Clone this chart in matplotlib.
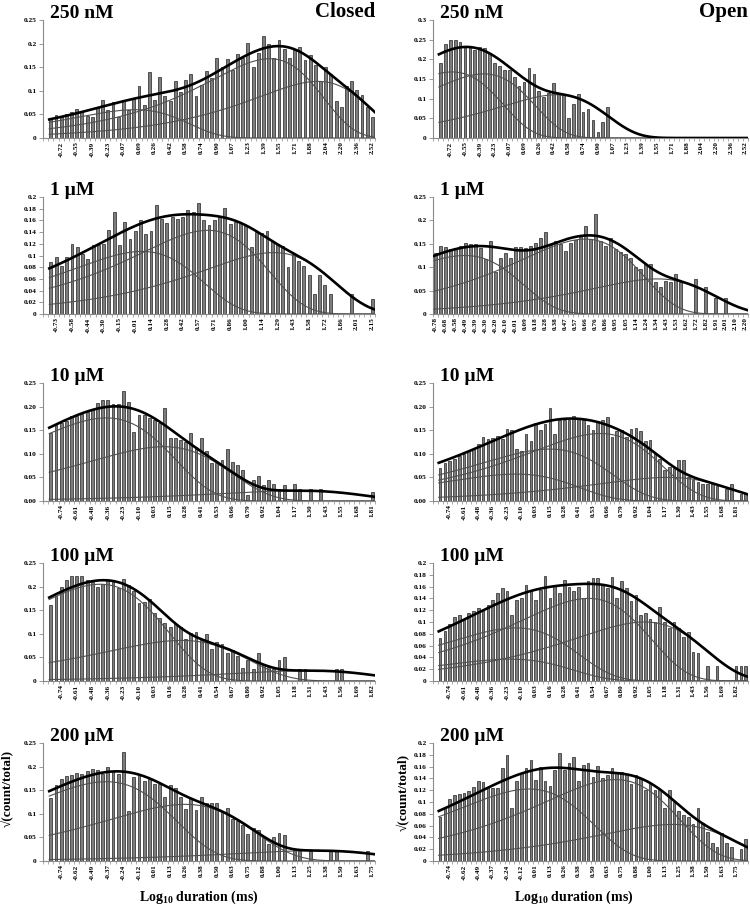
import numpy as np
import matplotlib.pyplot as plt

plt.rcParams['font.family'] = ['Liberation Serif', 'DejaVu Serif']
plt.rcParams['font.weight'] = 'bold'
plt.rcParams['mathtext.fontset'] = 'custom'
plt.rcParams['mathtext.rm'] = 'Liberation Serif:bold'
plt.rcParams['mathtext.default'] = 'rm'

# ---- tick labels (log10 duration, ms) ----
labels_250nM = ['-0.72', '-0.55', '-0.39', '-0.23', '-0.07', '0.09', '0.26', '0.42', '0.58', '0.74', '0.90',
                '1.07', '1.23', '1.39', '1.55', '1.71', '1.88', '2.04', '2.20', '2.36', '2.52']
labels_1uM_closed = ['-0.73', '-0.58', '-0.44', '-0.30', '-0.15', '-0.01', '0.14', '0.28', '0.42', '0.57', '0.71',
                     '0.86', '1.00', '1.14', '1.29', '1.43', '1.58', '1.72', '1.86', '2.01', '2.15']
labels_1uM_open = ['-0.78', '-0.68', '-0.58', '-0.49', '-0.39', '-0.30', '-0.20', '-0.10', '-0.01', '0.09', '0.18',
                   '0.28', '0.38', '0.47', '0.57', '0.66', '0.76', '0.86', '0.95', '1.05', '1.14', '1.24', '1.34',
                   '1.43', '1.53', '1.62', '1.72', '1.82', '1.91', '2.01', '2.10', '2.20']
labels_10uM = ['-0.74', '-0.61', '-0.48', '-0.36', '-0.23', '-0.10', '0.03', '0.15', '0.28', '0.41', '0.53',
               '0.66', '0.79', '0.92', '1.04', '1.17', '1.30', '1.43', '1.55', '1.68', '1.81']
labels_100uM = ['-0.74', '-0.61', '-0.48', '-0.36', '-0.23', '-0.10', '0.03', '0.16', '0.28', '0.41', '0.54',
                '0.67', '0.80', '0.92', '1.05', '1.18', '1.31', '1.43', '1.56', '1.69', '1.82']
labels_200uM = ['-0.74', '-0.62', '-0.49', '-0.37', '-0.24', '-0.12', '0.01', '0.13', '0.26', '0.38', '0.50',
                '0.63', '0.75', '0.88', '1.00', '1.13', '1.25', '1.38', '1.50', '1.63', '1.75']

# ---- histogram bars, sqrt(count/total) per bin ----
closed_250nM = [0, 0.042, 0.048, 0.045, 0.05, 0.056, 0.061, 0.055, 0.047, 0.045, 0.065, 0.08, 0.06, 0.076, 0.045,
                0.08, 0.06, 0.085, 0.11, 0.07, 0.14, 0.08, 0.13, 0.088, 0.078, 0.12, 0.097, 0.123, 0.136, 0.09,
                0.112, 0.142, 0.128, 0.169, 0.15, 0.168, 0.144, 0.177, 0.17, 0.202, 0.15, 0.181, 0.216, 0.2, 0.17,
                0.208, 0.188, 0.17, 0.186, 0.192, 0.165, 0.176, 0.155, 0.12, 0.15, 0.136, 0.078, 0.065, 0.11, 0.12,
                0.102, 0.091, 0.065, 0.045]
open_250nM = [0, 0.19, 0.238, 0.25, 0.25, 0.245, 0.235, 0.23, 0.225, 0.232, 0.228, 0.217, 0.19, 0.182, 0.172, 0.172,
              0.154, 0.133, 0.143, 0.178, 0.163, 0.12, 0.105, 0.115, 0.14, 0.112, 0.113, 0.052, 0.086, 0.111, 0.066,
              0.075, 0.047, 0.015, 0.04, 0.079]
closed_1uM = [0, 0.089, 0.097, 0.082, 0.098, 0.12, 0.115, 0.102, 0.094, 0.118, 0.118, 0.12, 0.144, 0.175, 0.118,
              0.158, 0.129, 0.142, 0.16, 0.137, 0.142, 0.186, 0.162, 0.156, 0.165, 0.163, 0.165, 0.177, 0.175, 0.19,
              0.161, 0.152, 0.16, 0.165, 0.182, 0.154, 0.158, 0.155, 0.152, 0.115, 0.14, 0.138, 0.142, 0.125, 0.12,
              0.117, 0.08, 0.103, 0.09, 0.082, 0.067, 0.034, 0.067, 0.05, 0.034, 0, 0, 0, 0.034, 0, 0, 0, 0.025]
open_1uM = [0.13, 0.145, 0.143, 0.138, 0.14, 0.145, 0.152, 0.15, 0.15, 0.14, 0.117, 0.156, 0.09, 0.12, 0.13, 0.12,
            0.143, 0.144, 0.14, 0.145, 0.152, 0.162, 0.175, 0.148, 0.155, 0.15, 0.135, 0.152, 0.158, 0.165, 0.187,
            0.16, 0.213, 0.155, 0.145, 0.163, 0.138, 0.133, 0.128, 0.12, 0.101, 0.097, 0.107, 0.107, 0.068, 0.058,
            0.07, 0.068, 0.085, 0.068, 0, 0, 0.075, 0, 0.058, 0, 0.034, 0, 0.034, 0, 0, 0, 0]
closed_10uM = [0, 0.145, 0.16, 0.165, 0.17, 0.18, 0.18, 0.185, 0.188, 0.195, 0.208, 0.214, 0.213, 0.205, 0.205,
               0.232, 0.21, 0.146, 0.183, 0.182, 0.176, 0.172, 0.165, 0.197, 0.133, 0.133, 0.13, 0.126, 0.145, 0.115,
               0.133, 0.105, 0.08, 0.08, 0.087, 0.111, 0.083, 0.077, 0.065, 0.012, 0.045, 0.052, 0.033, 0.044, 0.035,
               0.025, 0.033, 0, 0.035, 0.025, 0, 0.025, 0, 0.025, 0, 0, 0, 0, 0, 0, 0, 0, 0, 0.02]
open_10uM = [0, 0.07, 0.08, 0.085, 0.09, 0.095, 0.1, 0.105, 0.11, 0.12, 0.135, 0.132, 0.133, 0.137, 0.132, 0.152,
             0.15, 0.11, 0.105, 0.141, 0.128, 0.165, 0.15, 0.163, 0.196, 0.143, 0.172, 0.171, 0.172, 0.18, 0.175,
             0.172, 0.162, 0.15, 0.17, 0.172, 0.177, 0.135, 0.148, 0.15, 0.135, 0.152, 0.155, 0.148, 0.127, 0.13,
             0.1, 0.09, 0.066, 0.073, 0.07, 0.086, 0.086, 0.05, 0.045, 0.04, 0.035, 0.037, 0.035, 0.032, 0, 0.025,
             0.035, 0, 0.015, 0.018]
closed_100uM = [0, 0.16, 0.18, 0.2, 0.213, 0.222, 0.222, 0.222, 0.215, 0.21, 0.2, 0.205, 0.213, 0.21, 0.197, 0.217,
                0.203, 0.19, 0.165, 0.167, 0.173, 0.145, 0.133, 0.122, 0.115, 0.12, 0.115, 0.09, 0.102, 0.104, 0.087,
                0.1, 0.067, 0.082, 0.078, 0.06, 0.065, 0.053, 0.027, 0.045, 0.025, 0.06, 0.035, 0.03, 0.025, 0.044,
                0.05, 0, 0, 0.025, 0.025, 0, 0, 0, 0, 0, 0.025, 0.025, 0, 0, 0, 0, 0, 0]
open_100uM = [0, 0.073, 0.085, 0.097, 0.108, 0.112, 0.105, 0.115, 0.118, 0.123, 0.12, 0.128, 0.138, 0.15, 0.158,
              0.152, 0.112, 0.137, 0.14, 0.163, 0.155, 0.138, 0.155, 0.178, 0.14, 0.161, 0.15, 0.171, 0.16, 0.152,
              0.16, 0.14, 0.17, 0.175, 0.174, 0.165, 0.158, 0.176, 0.141, 0.169, 0.157, 0.135, 0.145, 0.112, 0.115,
              0.105, 0.1, 0.125, 0.1, 0.09, 0.1, 0.09, 0.075, 0.083, 0.05, 0.048, 0, 0.025, 0, 0.025, 0, 0, 0,
              0.025, 0.025, 0.025]
closed_200uM = [0, 0.133, 0.16, 0.173, 0.18, 0.183, 0.187, 0.184, 0.191, 0.195, 0.192, 0.185, 0.199, 0.19, 0.185,
                0.23, 0.105, 0.177, 0.184, 0.17, 0.173, 0.163, 0.163, 0.136, 0.16, 0.155, 0.135, 0.11, 0.133, 0.108,
                0.135, 0.122, 0.123, 0.123, 0.104, 0.113, 0.088, 0.085, 0.076, 0.058, 0.07, 0.065, 0.049, 0.035,
                0.051, 0.059, 0.056, 0, 0.025, 0.022, 0, 0.022, 0, 0, 0, 0.022, 0.022, 0, 0, 0, 0, 0, 0.022, 0]
open_200uM = [0, 0.075, 0.09, 0.105, 0.112, 0.114, 0.115, 0.118, 0.125, 0.135, 0.134, 0.125, 0.124, 0.124, 0.157,
              0.18, 0.09, 0.135, 0.15, 0.158, 0.172, 0.137, 0.16, 0.135, 0.127, 0.155, 0.183, 0.155, 0.166, 0.176,
              0.136, 0.163, 0.166, 0.143, 0.161, 0.14, 0.145, 0.158, 0.151, 0.151, 0.148, 0.13, 0.145, 0.14, 0.12,
              0.133, 0.12, 0.12, 0.09, 0.12, 0.1, 0.085, 0.078, 0.075, 0.062, 0.089, 0.065, 0.05, 0.031, 0.024,
              0.047, 0.03, 0.024, 0, 0.02, 0.037]

# ---- fitted exponential components: peak position (log10 ms) and peak height ----
closed_250nM_peaks, closed_250nM_heights = [0.05, 1.45, 1.95], [0.06, 0.168, 0.12]
open_250nM_peaks, open_250nM_heights = [-0.7, -0.35, 0.45], [0.168, 0.163, 0.11]
closed_1uM_peaks, closed_1uM_heights = [0.05, 0.65, 1.25], [0.107, 0.143, 0.105]
open_1uM_peaks, open_1uM_heights = [-0.5, 0.66, 1.35], [0.125, 0.16, 0.075]
closed_10uM_peaks, closed_10uM_heights = [-0.37, 0.1, 1.2], [0.176, 0.115, 0.022]
open_10uM_peaks, open_10uM_heights = [-0.15, 0.15, 0.6, 1.2], [0.057, 0.11, 0.143, 0.05]
closed_100uM_peaks, closed_100uM_heights = [-0.42, 0.25, 1.3], [0.205, 0.086, 0.022]
open_100uM_peaks, open_100uM_heights = [-0.2, -0.15, 0.5, 1.0], [0.037, 0.09, 0.14, 0.1]
closed_200uM_peaks, closed_200uM_heights = [-0.38, 0.25, 1.3], [0.168, 0.12, 0.022]
open_200uM_peaks, open_200uM_heights = [-0.05, 0.7, 1.2], [0.122, 0.138, 0.062]

titles = ['250 nM', '1 \u00b5M', '10 \u00b5M', '100 \u00b5M', '200 \u00b5M']

W, H = 750, 906
fig = plt.figure(figsize=(W / 100, H / 100), dpi=100)

row_top = [20, 197, 383, 563, 743]
row_bot = [138, 314, 501, 681, 861]
col_left = [43, 433]
col_right = [375, 748]

# (row, col, bars, labels, first label bin, label step, bins, ymax, ystep, yfmt, peaks, heights)
panels = [
    (0, 0, closed_250nM, labels_250nM, 3, 3, 64, 0.25, 0.05, 'g', closed_250nM_peaks, closed_250nM_heights),
    (0, 1, open_250nM, labels_250nM, 3, 3, 64, 0.3, 0.05, 'g', open_250nM_peaks, open_250nM_heights),
    (1, 0, closed_1uM, labels_1uM_closed, 2, 3, 63, 0.2, 0.02, 'g', closed_1uM_peaks, closed_1uM_heights),
    (1, 1, open_1uM, labels_1uM_open, 0, 2, 63, 0.25, 0.05, 'g', open_1uM_peaks, open_1uM_heights),
    (2, 0, closed_10uM, labels_10uM, 3, 3, 64, 0.25, 0.05, '.2f', closed_10uM_peaks, closed_10uM_heights),
    (2, 1, open_10uM, labels_10uM, 3, 3, 66, 0.25, 0.05, '.2f', open_10uM_peaks, open_10uM_heights),
    (3, 0, closed_100uM, labels_100uM, 3, 3, 64, 0.25, 0.05, 'g', closed_100uM_peaks, closed_100uM_heights),
    (3, 1, open_100uM, labels_100uM, 3, 3, 66, 0.2, 0.02, 'g', open_100uM_peaks, open_100uM_heights),
    (4, 0, closed_200uM, labels_200uM, 3, 3, 64, 0.25, 0.05, 'g', closed_200uM_peaks, closed_200uM_heights),
    (4, 1, open_200uM, labels_200uM, 3, 3, 66, 0.2, 0.02, 'g', open_200uM_peaks, open_200uM_heights),
]

axis_grey = '#8a8a8a'

for row, col, bars, labels, start, step, nbins, ymax, ystep, yfmt, peaks, heights in panels:
    l, r = col_left[col], col_right[col]
    t, b = row_top[row], row_bot[row]
    ax = fig.add_axes([l / W, 1 - b / H, (r - l) / W, (b - t) / H])

    v = np.zeros(nbins)
    v[:min(len(bars), nbins)] = bars[:nbins]
    idx = np.arange(nbins)
    nz = v > 0
    ax.bar(idx[nz], v[nz], width=0.55, color='#7d7d7d', edgecolor='#222222', linewidth=0.5, zorder=2)

    lab_pos = start + step * np.arange(len(labels))
    w = (float(labels[-1]) - float(labels[0])) / (lab_pos[-1] - lab_pos[0])
    first = idx[nz][0]
    xi = np.linspace(first - 0.3, nbins - 0.5, 500)
    xlog = float(labels[0]) + (xi - start) * w
    comps = []
    for m, a in zip(peaks, heights):
        u = 10 ** (xlog - m)
        comps.append(a * np.sqrt(u * np.exp(1 - u)))
        ax.plot(xi, comps[-1], color='#505050', lw=0.8, zorder=3)
    total = np.sqrt(np.sum(np.array(comps) ** 2, axis=0))
    ax.plot(xi, total, color='black', lw=1.9, zorder=4)

    ax.set_xlim(-0.5, nbins - 0.5)
    ax.set_ylim(0, ymax)
    yt = np.arange(0, ymax + 1e-9, ystep)
    ax.set_yticks(yt)
    ax.set_yticklabels([format(round(y, 3), yfmt) for y in yt])
    ax.set_xticks(lab_pos)
    ax.set_xticklabels(labels, rotation=90)
    ax.set_xticks(np.arange(-0.5, nbins, 1), minor=True)

    for s in ['top', 'right']:
        ax.spines[s].set_visible(False)
    for s in ['left', 'bottom']:
        ax.spines[s].set_color(axis_grey)
        ax.spines[s].set_linewidth(0.8)
    ax.tick_params(axis='y', length=3, width=0.6, color=axis_grey, labelsize=5.3, pad=1.5)
    ax.tick_params(axis='x', which='major', length=0, labelsize=5.2, pad=2.5)
    ax.tick_params(axis='x', which='minor', length=2.5, width=0.5, color=axis_grey)
    ax.set_facecolor('none')

    fig.text((l + 7) / W, 1 - (t - 2) / H, titles[row], fontsize=14, fontweight='bold',
             ha='left', va='baseline')

fig.text(375 / W, 1 - 17 / H, 'Closed', fontsize=15, fontweight='bold', ha='right', va='baseline')
fig.text(748 / W, 1 - 17 / H, 'Open', fontsize=15, fontweight='bold', ha='right', va='baseline')

for xc, yc in [(7, 788), (403, 792)]:
    fig.text(xc / W, 1 - yc / H, '\u221a(count/total)', fontsize=9.5, fontweight='bold',
             rotation=90, ha='center', va='center')
for xc in [199, 574]:
    fig.text(xc / W, 1 - 897 / H, 'Log$_{10}$ duration (ms)', fontsize=10, fontweight='bold',
             ha='center', va='center')

fig.savefig('out.png', dpi=100)
